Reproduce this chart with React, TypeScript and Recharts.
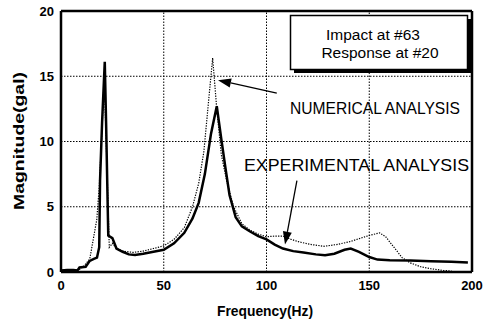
import React from 'react';
import { LineChart, Line, XAxis, YAxis, ReferenceLine } from 'recharts';

const xTicks = [0, 50, 100, 150, 200];
const yTicks = [0, 5, 10, 15, 20];
const xGrid = [50, 100, 150];
const yGrid = [5, 10, 15];

const expFreq = [0, 3, 6, 8, 9, 12, 14, 16, 17.5, 18.6, 19, 20, 21.3, 22, 23, 25, 27, 30, 33, 36, 40, 45, 50, 55, 60, 64, 67, 70, 73, 75.8, 78, 80, 82, 85, 88, 92, 96, 100, 104, 108, 113, 118, 124, 128.5, 133, 138, 141, 145, 150, 154, 160, 170, 180, 190, 198];
const expVal = [0.12, 0.15, 0.15, 0.12, 0.35, 0.4, 0.85, 1.0, 1.1, 1.9, 7.0, 11.5, 16.1, 11.0, 2.8, 2.6, 1.8, 1.55, 1.35, 1.3, 1.4, 1.55, 1.7, 2.2, 3.0, 4.1, 5.3, 7.5, 10.6, 12.7, 10.2, 8.0, 5.9, 4.2, 3.5, 3.1, 2.75, 2.5, 2.1, 1.8, 1.6, 1.5, 1.35, 1.28, 1.4, 1.7, 1.8, 1.55, 1.15, 0.95, 0.9, 0.88, 0.82, 0.78, 0.72];

const numFreq = [0, 5, 9, 10.8, 14, 17.4, 18.6, 20, 21, 22, 23.5, 25, 27, 30, 35, 40, 45, 50, 55, 60, 64, 67, 69.5, 71.7, 73.8, 75.8, 78, 80.6, 84, 88, 92, 96, 100, 104, 108, 112, 116, 122, 128, 134, 140, 145, 150, 155, 158, 162, 166, 170, 175, 180, 186, 190];
const numVal = [0.1, 0.12, 0.2, 0.4, 1.0, 4.0, 6.5, 11.0, 15.0, 10.0, 1.9, 2.2, 1.8, 1.6, 1.5, 1.6, 1.8, 2.0, 2.5, 3.4, 5.0, 6.8, 9.2, 12.9, 16.4, 12.5, 9.0, 7.0, 5.0, 3.7, 3.2, 2.9, 2.7, 2.75, 2.75, 2.5, 2.3, 2.1, 1.97, 2.1, 2.3, 2.55, 2.8, 3.0, 2.7, 1.9, 1.1, 0.7, 0.4, 0.25, 0.12, 0.08];

const expData = expFreq.map((f, i) => ({ f, v: expVal[i] }));
const numData = numFreq.map((f, i) => ({ f, v: numVal[i] }));

const FONT = '"Liberation Sans", Arial, Helvetica, sans-serif';

const Arrow = (props: any) => {
  const { x1, y1, x2, y2 } = props;
  if ([x1, y1, x2, y2].some((v) => typeof v !== 'number' || isNaN(v))) return null;
  const ang = Math.atan2(y2 - y1, x2 - x1);
  const L = 13;
  const W = 4.5;
  const bx = x2 - L * Math.cos(ang);
  const by = y2 - L * Math.sin(ang);
  const px = -Math.sin(ang) * W;
  const py = Math.cos(ang) * W;
  return (
    <g>
      <line x1={x1} y1={y1} x2={bx} y2={by} stroke="#000" strokeWidth={1.3} />
      <polygon points={`${x2},${y2} ${bx + px},${by + py} ${bx - px},${by - py}`} fill="#000" />
    </g>
  );
};

export default function App() {
  return (
    <div style={{ position: 'absolute', left: 0, top: 0, width: 495, height: 324, background: '#fff' }}>
      <LineChart width={495} height={324} margin={{ top: 11, right: 23, left: 0, bottom: 0 }}>
        <XAxis
          dataKey="f"
          type="number"
          domain={[0, 200]}
          ticks={xTicks}
          height={52}
          tickLine={false}
          tickSize={0}
          tickMargin={9}
          axisLine={{ stroke: '#000', strokeWidth: 2.5 }}
          tick={{ fill: '#000', fontSize: 13, fontWeight: 'bold', fontFamily: FONT }}
          allowDuplicatedCategory={false}
        />
        <YAxis
          type="number"
          domain={[0, 20]}
          ticks={yTicks}
          width={61}
          tickLine={false}
          tickSize={0}
          tickMargin={7}
          axisLine={{ stroke: '#000', strokeWidth: 2.5 }}
          tick={{ fill: '#000', fontSize: 13, fontWeight: 'bold', fontFamily: FONT }}
        />
        {xGrid.map((x) => (
          <ReferenceLine key={'gx' + x} x={x} stroke="#000" strokeWidth={1} strokeDasharray="1.5 1.5" />
        ))}
        {yGrid.map((y) => (
          <ReferenceLine key={'gy' + y} y={y} stroke="#000" strokeWidth={1} strokeDasharray="1.5 1.5" />
        ))}
        <ReferenceLine y={20} stroke="#000" strokeWidth={2.5} />
        <ReferenceLine x={200} stroke="#000" strokeWidth={2.5} />
        <Line data={numData} dataKey="v" type="linear" stroke="#000" strokeWidth={1.2} strokeDasharray="1.3 1.3" dot={false} isAnimationActive={false} />
        <Line data={expData} dataKey="v" type="linear" stroke="#000" strokeWidth={2.5} dot={false} isAnimationActive={false} />
        <ReferenceLine segment={[{ x: 105, y: 13.7 }, { x: 76.4, y: 14.7 }]} shape={Arrow} />
        <ReferenceLine segment={[{ x: 114.8, y: 7.0 }, { x: 109, y: 2.1 }]} shape={Arrow} />
      </LineChart>
      <svg width={495} height={324} style={{ position: 'absolute', left: 0, top: 0, pointerEvents: 'none' }}>
        <rect x={294} y={19} width={177} height={54} fill="#000" />
        <rect x={290.5} y={15.5} width={177} height={54} fill="#fff" stroke="#000" strokeWidth={1.5} />
        <text x={373} y={40} textAnchor="middle" fontFamily={FONT} fontSize={15.5}>Impact at #63</text>
        <text x={380} y={58} textAnchor="middle" fontFamily={FONT} fontSize={15.5}>Response at #20</text>
        <text x={290} y={114} fontFamily={FONT} fontSize={17} textLength={170} lengthAdjust="spacingAndGlyphs">NUMERICAL ANALYSIS</text>
        <text x={244} y={171} fontFamily={FONT} fontSize={17} textLength={225} lengthAdjust="spacingAndGlyphs">EXPERIMENTAL ANALYSIS</text>
        <text x={265} y={316} textAnchor="middle" fontFamily={FONT} fontSize={14} fontWeight="bold" textLength={96} lengthAdjust="spacingAndGlyphs">Frequency(Hz)</text>
        <text x={24} y={141} textAnchor="middle" fontFamily={FONT} fontSize={14} fontWeight="bold" transform="rotate(-90 24 141)" textLength={138} lengthAdjust="spacingAndGlyphs">Magnitude(gal)</text>
      </svg>
    </div>
  );
}
